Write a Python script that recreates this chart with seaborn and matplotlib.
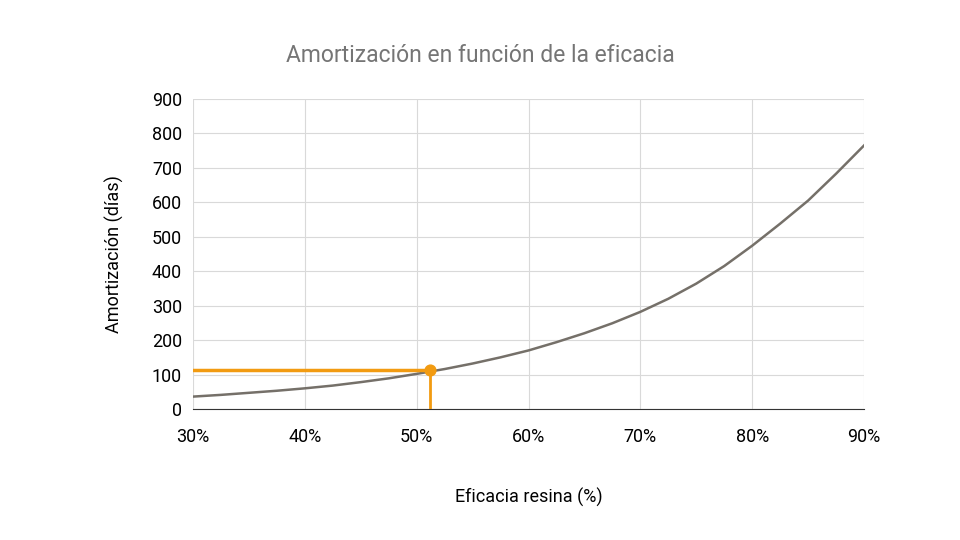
import matplotlib
matplotlib.use("Agg")
import matplotlib.pyplot as plt
import seaborn as sns
import pandas as pd

eficacia = [30, 32.5, 35, 37.5, 40, 42.5, 45, 47.5, 50, 52.5, 55, 57.5, 60, 62.5,
            65, 67.5, 70, 72.5, 75, 77.5, 80, 82.5, 85, 87.5, 90]
amortizacion = [36, 41, 47, 53, 60, 68, 78, 89, 102, 116, 132, 150, 170, 194,
                220, 249, 282, 320, 364, 415, 474, 538, 605, 683, 765]
punto_x = [51.2]
punto_y = [113]
x_ticks = [30, 40, 50, 60, 70, 80, 90]
y_ticks = [0, 100, 200, 300, 400, 500, 600, 700, 800, 900]

plt.rcParams["font.family"] = "Roboto"
fig = plt.figure(figsize=(9.6, 5.4), dpi=100)
ax = fig.add_axes([193/960, 1-409/540, (864-193)/960, (409-99)/540])
df = pd.DataFrame({"x": eficacia, "y": amortizacion})
sns.lineplot(data=df, x="x", y="y", ax=ax, color="#757069", linewidth=1.8)
ax.plot([30, punto_x[0]], [punto_y[0], punto_y[0]], color="#f29b11", linewidth=2.5, zorder=3)
ax.plot([punto_x[0], punto_x[0]], [0, punto_y[0]], color="#f29b11", linewidth=2, zorder=3)
ax.scatter(punto_x, punto_y, color="#f29b11", s=60, zorder=4)
ax.set_xlim(30, 90)
ax.set_ylim(0, 900)
ax.set_xticks(x_ticks)
ax.set_xticklabels([f"{t}%" for t in x_ticks])
ax.set_yticks(y_ticks)
ax.grid(True, color="#d9d9d9", linewidth=0.8)
ax.set_axisbelow(True)
for s in ["top", "right", "left"]:
    ax.spines[s].set_visible(False)
ax.spines["bottom"].set_color("#333333")
ax.tick_params(axis="x", length=0, labelsize=13, pad=14)
ax.tick_params(axis="y", length=0, labelsize=13, pad=8)
ax.set_xlabel("Eficacia resina (%)", fontsize=13, labelpad=30)
ax.set_ylabel("Amortización (días)", fontsize=13, labelpad=20)
fig.text(480/960, 1-56/540, "Amortización en función de la eficacia", ha="center", va="center",
         fontsize=16.5, color="#757575")
fig.savefig("out.png", dpi=100)
